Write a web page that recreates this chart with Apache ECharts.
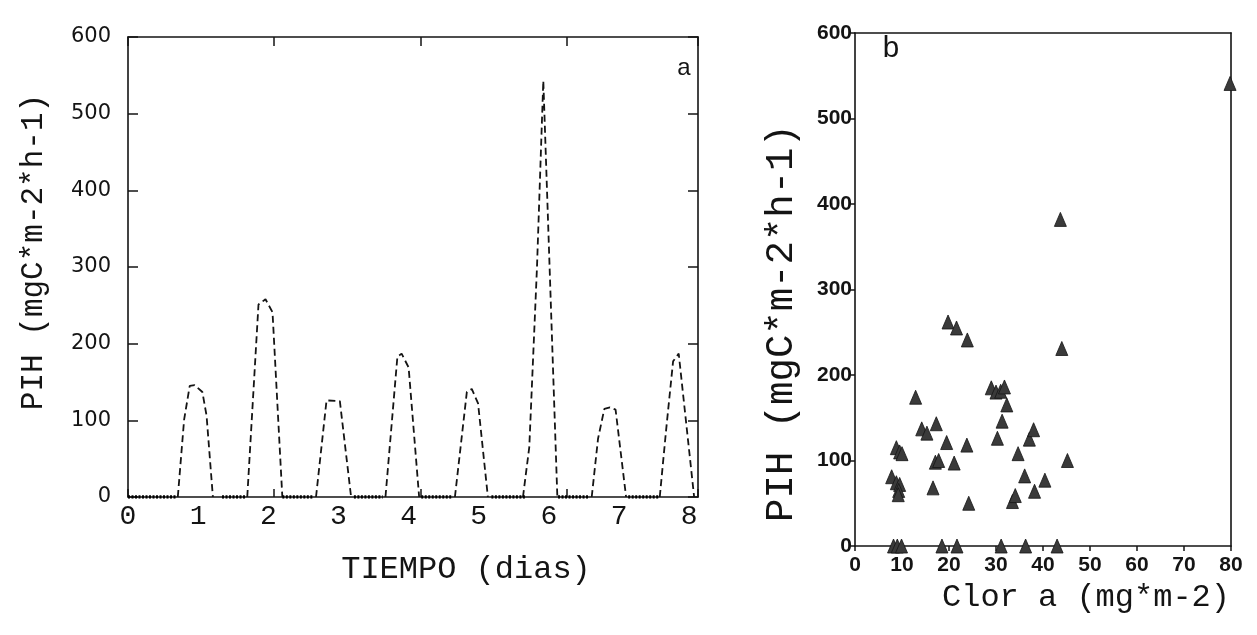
<!DOCTYPE html>
<html><head><meta charset="utf-8">
<script src="https://cdn.jsdelivr.net/npm/echarts@6/dist/echarts.min.js"></script>
<style>html,body{margin:0;padding:0;background:#fff}#c{width:1257px;height:635px}</style>
</head><body><div id="c"></div>
<script>
// ---------- Panel a : PIH vs time (days) ----------
const peak1 = [[0.71,0],[0.80,101],[0.88,145],[0.95,146],[1.06,137],[1.12,106],[1.21,0]];
const peak2 = [[1.70,0],[1.86,251],[1.96,258],[2.06,241],[2.20,0]];
const peak3 = [[2.68,0],[2.83,126],[3.02,125],[3.18,0]];
const peak4 = [[3.67,0],[3.84,183],[3.90,187],[4.00,169],[4.15,0]];
const peak5 = [[4.66,0],[4.83,137],[4.90,141],[4.99,122],[5.13,0]];
const peak6 = [[5.63,0],[5.72,65],[5.83,300],[5.92,543],[6.12,0]];
const peak7 = [[6.61,0],[6.70,76],[6.79,115],[6.87,117],[6.95,114],[7.10,0]];
const peak8 = [[7.58,0],[7.67,87],[7.77,177],[7.85,187],[8.07,0]];
const peaks = [peak1, peak2, peak3, peak4, peak5, peak6, peak7, peak8];
const nightStart = [0.00, 1.34, 2.20, 3.22, 4.18, 5.18, 6.13, 7.13];
const nightEnd   = [0.69, 1.68, 2.63, 3.63, 4.63, 5.66, 6.58, 7.56];
const dayMax = 8.125;      // days (= 195 h)
const hourMax = 195;
const yTicksA = [0, 600, 100];   // min, max, interval

// ---------- Panel b : PIH vs Clor a ----------
const clorA = [19.8,21.6,23.9,12.9,29.0,30.0,31.0,31.8,32.3,31.3,30.3,14.2,15.3,17.3,19.5,23.8,
  8.8,9.5,10.0,17.1,17.8,21.1,7.8,8.8,9.5,9.3,9.2,16.6,24.2,34.7,36.1,37.1,38.0,33.5,34.1,38.2,
  40.4,44.0,45.2,43.7,79.8,8.2,9.0,9.9,18.5,21.7,31.1,36.3,43.0];
const pihB = [262,255,241,174,185,180,181,186,165,146,126,137,132,143,121,118,
  115,110,108,98,100,97,81,74,72,65,60,68,50,108,82,125,136,52,59,64,
  77,231,100,382,541,0,0,0,0,0,0,0,0];

const chart = echarts.init(document.getElementById('c'));
const mono = 'Liberation Mono';
const ink = '#141414';
const gA = {left:128, top:37, width:570, height:460};
const gB = {left:855, top:33, width:376, height:513};
const axLine = {show:true, onZero:false, lineStyle:{color:ink, width:1.6}};

const series = [];
peaks.forEach(p => series.push({
  type:'line', xAxisIndex:0, yAxisIndex:0, data:p, symbol:'none', silent:true,
  lineStyle:{color:ink, width:1.8, type:[7,4]}
}));
nightStart.forEach((s,i) => series.push({
  type:'line', xAxisIndex:0, yAxisIndex:0, data:[[s,0],[nightEnd[i],0]], symbol:'none', silent:true,
  lineStyle:{color:'#000', width:3.5, type:[2,1.5]}
}));
series.push({
  type:'scatter', xAxisIndex:3, yAxisIndex:3, clip:false,
  data: clorA.map((x,i)=>[x, pihB[i]]),
  symbol:'triangle', symbolSize:[12,14],
  itemStyle:{color:'#3a3a3a', borderColor:'#151515', borderWidth:0.8, opacity:1}
});

const option = {
  animation:false,
  backgroundColor:'#fff',
  grid:[Object.assign({},gA), Object.assign({},gA), Object.assign({},gB)],
  xAxis:[
    {gridIndex:0, type:'value', min:0, max:dayMax, interval:1, position:'bottom',
     axisLine:axLine, axisTick:{show:false}, splitLine:{show:false},
     axisLabel:{fontFamily:mono, fontSize:28, color:ink, margin:6,
       formatter:v => Number.isInteger(v) ? String(v) : ''}},
    {gridIndex:0, type:'value', min:0, max:hourMax, interval:50, position:'top',
     axisLine:axLine, axisTick:{show:true, inside:true, length:9, lineStyle:{color:ink,width:1.5}},
     axisLabel:{show:false}, splitLine:{show:false}},
    {gridIndex:1, type:'value', min:0, max:hourMax, interval:50, position:'bottom',
     axisLine:{show:false, onZero:false}, axisTick:{show:true, inside:true, length:8, lineStyle:{color:ink,width:1.5}},
     axisLabel:{show:false}, splitLine:{show:false}},
    {gridIndex:2, type:'value', min:0, max:80, interval:10, position:'bottom',
     axisLine:axLine, axisTick:{show:true, inside:false, length:5, lineStyle:{color:ink,width:1.5}},
     axisLabel:{fontFamily:'Liberation Sans', fontWeight:'bold', fontSize:21, color:ink, margin:9},
     splitLine:{show:false}},
    {gridIndex:2, type:'value', min:0, max:80, position:'top',
     axisLine:axLine, axisTick:{show:false}, axisLabel:{show:false}, splitLine:{show:false}}
  ],
  yAxis:[
    {gridIndex:0, type:'value', min:yTicksA[0], max:yTicksA[1], interval:yTicksA[2], position:'left',
     axisLine:axLine, axisTick:{show:true, inside:true, length:10, lineStyle:{color:ink,width:1.5}},
     axisLabel:{fontFamily:'DejaVu Sans', fontSize:21, color:ink, margin:17}, splitLine:{show:false}},
    {gridIndex:0, type:'value', min:yTicksA[0], max:yTicksA[1], interval:yTicksA[2], position:'right',
     axisLine:axLine, axisTick:{show:true, inside:true, length:10, lineStyle:{color:ink,width:1.5}},
     axisLabel:{show:false}, splitLine:{show:false}},
    {gridIndex:1, type:'value', min:0, max:1, show:false},
    {gridIndex:2, type:'value', min:0, max:600, interval:100, position:'left',
     axisLine:axLine, axisTick:{show:true, inside:false, length:5, lineStyle:{color:ink,width:1.5}},
     axisLabel:{fontFamily:'Liberation Sans', fontWeight:'bold', fontSize:21, color:ink, margin:3},
     splitLine:{show:false}},
    {gridIndex:2, type:'value', min:0, max:600, position:'right',
     axisLine:axLine, axisTick:{show:false}, axisLabel:{show:false}, splitLine:{show:false}}
  ],
  graphic:[
    {type:'text', x:684, y:68, style:{text:'a', fontFamily:'Liberation Sans', fontSize:24, fill:ink, align:'center', verticalAlign:'middle'}},
    {type:'text', x:891, y:49, style:{text:'b', fontFamily:mono, fontSize:30, fill:ink, align:'center', verticalAlign:'middle'}},
    {type:'text', x:34, y:252, rotation:Math.PI/2, style:{text:'PIH (mgC*m-2*h-1)', fontFamily:mono, fontSize:31, fill:ink, align:'center', verticalAlign:'middle'}},
    {type:'text', x:466, y:570, style:{text:'TIEMPO (dias)', fontFamily:mono, fontSize:32, fill:ink, align:'center', verticalAlign:'middle'}},
    {type:'text', x:782, y:323, rotation:Math.PI/2, style:{text:'PIH (mgC*m-2*h-1)', fontFamily:mono, fontSize:39, fill:ink, align:'center', verticalAlign:'middle'}},
    {type:'text', x:1086, y:598, style:{text:'Clor a (mg*m-2)', fontFamily:mono, fontSize:32, fill:ink, align:'center', verticalAlign:'middle'}}
  ],
  series: series
};
chart.setOption(option);
</script></body></html>
